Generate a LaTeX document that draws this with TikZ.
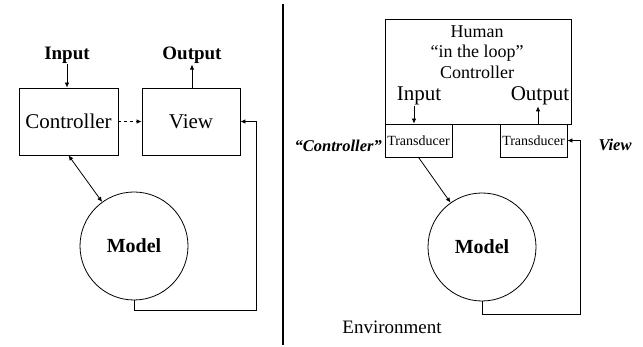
\documentclass[tikz,border=0pt]{standalone}
\usepackage{fontspec}
\setmainfont{Liberation Serif}
\usetikzlibrary{arrows.meta,positioning}
\tikzset{
	box/.style={draw, line width=0.8pt, rectangle, inner sep=0pt},
	ball/.style={draw, line width=0.8pt, circle, minimum size=108pt, inner sep=0pt, font=\fontsize{20}{22}\selectfont\bfseries},
	link/.style={line width=0.8pt, -{Latex[length=5pt,width=4.5pt]}},
	lbl/.style={inner sep=1pt}
}

\begin{document}
\begin{tikzpicture}[x=1pt,y=-1pt]
		\useasboundingbox (0,0) rectangle (643,347);
		% Left: MVC
		\node[box, minimum width=99pt, minimum height=67pt, font=\fontsize{21}{23}\selectfont] (ctrl) at (68.5,121.5) {Controller};
		\node[box, minimum width=98pt, minimum height=67pt, font=\fontsize{21}{23}\selectfont] (view) at (191,121.5) {View};
		\node[ball] (model) at (134,246) {Model};
		\node[lbl, font=\fontsize{19}{21}\selectfont\bfseries] (inL) at (67,55) {Input};
		\node[lbl, font=\fontsize{19}{21}\selectfont\bfseries] (outL) at (192,55) {Output};
		\coordinate (loopL) at (256,310);
		\draw[link] (inL) -- (inL |- ctrl.north);
		\draw[link] (outL |- view.north) -- (outL);
		\draw[link, dashed] (ctrl) -- (view);
		\draw[link, {Latex[length=5pt,width=4.5pt]}-{Latex[length=5pt,width=4.5pt]}] (ctrl.south) -- (model);
		\draw[link] (model.south) |- (loopL) |- (view.east);
		% Divider
		\draw[line width=1.3pt] (283,4) -- (283,345);
		% Right: human in the loop
		\node[box, minimum width=186pt, minimum height=105pt] (human) at (478,71.5) {};
		\node[lbl, align=center, font=\fontsize{18}{20.5}\selectfont] (humtxt) at (477,52) {Human\\“in the loop”\\Controller};
		\node[lbl, font=\fontsize{21}{23}\selectfont] (inR) at (419,96) {Input};
		\node[lbl, font=\fontsize{21}{23}\selectfont] (outR) at (540,96) {Output};
		\node[box, minimum width=67pt, minimum height=33pt, font=\fontsize{14}{16}\selectfont] (tdL) at (418.5,140.5) {Transducer};
		\node[box, minimum width=67pt, minimum height=33pt, font=\fontsize{14}{16}\selectfont] (tdR) at (533.5,140.5) {Transducer};
		\node[lbl, anchor=east, font=\fontsize{16.5}{18}\selectfont\bfseries\itshape] (ctrlR) at (383,146) {“Controller”};
		\node[lbl, font=\fontsize{16.5}{18}\selectfont\bfseries\itshape] (viewR) at (615,145) {View};
		\node[ball] (modelR) at (482,247) {Model};
		\node[lbl, font=\fontsize{19}{21}\selectfont] (env) at (392,327) {Environment};
		\coordinate (loopR) at (580,314);
		\draw[link] ([xshift=-5pt]inR.south) -- ([xshift=-5pt]inR.south |- tdL.north);
		\draw[link] ([xshift=-2pt]outR.south |- tdR.north) -- ([xshift=-2pt]outR.south);
		\draw[link] (tdL.south) -- (modelR);
		\draw[link] (modelR.south) |- (loopR) |- (tdR.east);
	\end{tikzpicture}
\end{document}
